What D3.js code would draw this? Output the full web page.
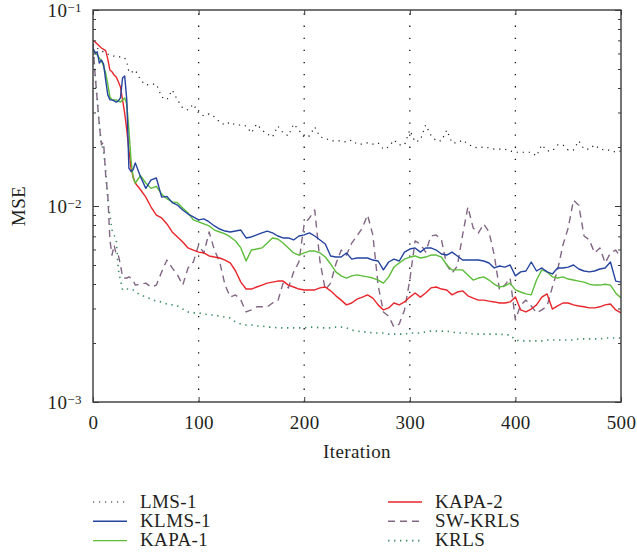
<!DOCTYPE html>
<html>
<head>
<meta charset="utf-8">
<script src="https://cdn.jsdelivr.net/npm/d3@7/dist/d3.min.js"></script>
<style>
  body { margin: 0; background: #fff; }
  svg { display: block; }
  text { font-family: "Liberation Serif", "Times New Roman", serif; fill: #231f20; letter-spacing: 0.4px; }
</style>
</head>
<body>
<div id="chart"></div>
<script>
// Iterations at which the curves were read (every 2 early on, then every 5).
const iterations = d3.range(0, 41, 2).concat(d3.range(45, 501, 5));

const lms1 = [
  6.71e-2, 6.55e-2, 6.40e-2, 6.25e-2, 6.18e-2, 6.11e-2, 6.03e-2, 5.96e-2, 5.89e-2, 5.82e-2, 5.82e-2,
  5.76e-2, 5.76e-2, 5.76e-2, 5.69e-2, 5.69e-2, 5.43e-2, 4.83e-2, 4.77e-2, 4.88e-2, 4.94e-2,
  4.40e-2, 4.14e-2, 4.19e-2, 4.19e-2, 3.60e-2, 3.48e-2, 3.91e-2, 3.48e-2, 3.16e-2, 3.09e-2, 3.31e-2,
  2.98e-2, 2.88e-2, 2.95e-2, 2.85e-2, 2.68e-2, 2.59e-2, 2.68e-2, 2.59e-2, 2.59e-2, 2.56e-2,
  2.36e-2, 2.62e-2, 2.44e-2, 2.33e-2, 2.25e-2, 2.56e-2, 2.36e-2, 2.28e-2, 2.62e-2, 2.44e-2,
  2.25e-2, 2.28e-2, 2.53e-2, 2.25e-2, 2.22e-2, 2.15e-2, 2.15e-2, 2.15e-2, 2.12e-2, 2.17e-2,
  2.07e-2, 2.07e-2, 2.10e-2, 2.07e-2, 2.10e-2, 1.95e-2, 2.00e-2, 2.17e-2, 2.05e-2, 2.05e-2,
  2.44e-2, 2.12e-2, 2.17e-2, 2.59e-2, 2.30e-2, 2.15e-2, 2.15e-2, 2.44e-2, 2.10e-2, 2.10e-2,
  2.17e-2, 2.07e-2, 2.00e-2, 1.98e-2, 2.00e-2, 1.98e-2, 1.95e-2, 1.95e-2, 1.95e-2, 1.91e-2,
  1.88e-2, 1.88e-2, 1.88e-2, 1.88e-2, 1.80e-2, 2.05e-2, 1.91e-2, 1.91e-2, 2.05e-2, 2.05e-2,
  1.93e-2, 1.93e-2, 2.15e-2, 1.95e-2, 1.95e-2, 2.05e-2, 1.95e-2, 1.93e-2, 1.93e-2, 1.88e-2, 1.91e-2
];

const klms1 = [
  6.40e-2, 6.03e-2, 6.11e-2, 5.36e-2, 5.56e-2, 5.30e-2, 4.39e-2, 3.69e-2, 3.48e-2, 3.48e-2, 3.44e-2,
  3.39e-2, 3.44e-2, 3.56e-2, 4.50e-2, 4.61e-2, 3.48e-2, 1.56e-2, 1.50e-2, 1.53e-2, 1.66e-2,
  1.41e-2, 1.23e-2, 1.36e-2, 1.39e-2, 1.11e-2, 1.12e-2, 1.04e-2, 1.01e-2, 9.54e-3, 9.10e-3, 8.79e-3,
  8.49e-3, 8.59e-3, 8.29e-3, 7.91e-3, 7.63e-3, 7.45e-3, 7.37e-3, 7.45e-3, 7.54e-3, 6.87e-3,
  6.95e-3, 7.12e-3, 7.29e-3, 7.45e-3, 7.29e-3, 7.03e-3, 6.87e-3, 6.87e-3, 6.71e-3, 7.03e-3,
  7.12e-3, 7.29e-3, 7.03e-3, 6.71e-3, 6.40e-3, 5.56e-3, 5.49e-3, 5.49e-3, 5.76e-3, 5.36e-3,
  5.43e-3, 5.43e-3, 5.43e-3, 5.30e-3, 5.24e-3, 4.72e-3, 5.18e-3, 5.36e-3, 5.24e-3, 5.82e-3,
  6.03e-3, 6.11e-3, 5.82e-3, 6.11e-3, 6.11e-3, 5.96e-3, 5.69e-3, 5.62e-3, 5.82e-3, 5.56e-3,
  5.30e-3, 5.30e-3, 5.30e-3, 5.30e-3, 5.24e-3, 5.12e-3, 4.83e-3, 4.94e-3, 4.88e-3, 5.00e-3,
  4.40e-3, 4.61e-3, 4.66e-3, 5.18e-3, 4.66e-3, 4.83e-3, 4.61e-3, 4.50e-3, 4.83e-3, 4.83e-3,
  4.88e-3, 5.00e-3, 4.77e-3, 4.66e-3, 4.61e-3, 4.66e-3, 4.77e-3, 4.83e-3, 5.18e-3, 4.14e-3, 4.09e-3
];

const kapa1 = [
  6.25e-2, 6.11e-2, 5.89e-2, 5.69e-2, 5.49e-2, 5.18e-2, 4.77e-2, 4.19e-2, 3.60e-2, 3.48e-2, 3.48e-2,
  3.48e-2, 3.44e-2, 3.39e-2, 3.48e-2, 3.56e-2, 3.31e-2, 2.44e-2, 1.72e-2, 1.39e-2, 1.31e-2,
  1.43e-2, 1.31e-2, 1.23e-2, 1.26e-2, 1.15e-2, 1.09e-2, 1.05e-2, 1.04e-2, 9.77e-3, 9.21e-3, 8.49e-3,
  8.29e-3, 8.10e-3, 7.91e-3, 7.54e-3, 7.37e-3, 7.20e-3, 6.95e-3, 6.63e-3, 6.11e-3, 5.24e-3,
  5.96e-3, 6.03e-3, 6.11e-3, 6.47e-3, 6.87e-3, 6.79e-3, 6.47e-3, 6.11e-3, 5.76e-3, 5.62e-3,
  5.76e-3, 5.89e-3, 5.89e-3, 5.76e-3, 5.49e-3, 5.06e-3, 4.61e-3, 4.40e-3, 4.29e-3, 4.40e-3,
  4.45e-3, 4.40e-3, 4.35e-3, 4.29e-3, 4.19e-3, 4.04e-3, 4.35e-3, 4.88e-3, 5.12e-3, 5.36e-3,
  5.49e-3, 5.56e-3, 5.43e-3, 5.49e-3, 5.62e-3, 5.62e-3, 5.49e-3, 5.00e-3, 4.72e-3, 4.72e-3,
  4.72e-3, 4.45e-3, 4.19e-3, 4.29e-3, 4.35e-3, 4.19e-3, 3.99e-3, 3.86e-3, 3.91e-3, 4.04e-3,
  3.73e-3, 3.64e-3, 3.56e-3, 3.52e-3, 4.19e-3, 4.72e-3, 4.61e-3, 4.35e-3, 4.29e-3, 4.35e-3,
  4.24e-3, 4.19e-3, 4.14e-3, 4.09e-3, 3.99e-3, 3.95e-3, 3.95e-3, 3.99e-3, 3.95e-3, 3.60e-3, 3.39e-3
];

const kapa2 = [
  6.98e-2, 6.87e-2, 6.71e-2, 6.55e-2, 6.40e-2, 6.30e-2, 6.20e-2, 5.62e-2, 4.94e-2, 4.84e-2, 4.66e-2,
  4.55e-2, 4.30e-2, 4.05e-2, 3.48e-2, 2.98e-2, 2.44e-2, 1.93e-2, 1.56e-2, 1.41e-2, 1.31e-2,
  1.21e-2, 1.11e-2, 9.88e-3, 8.99e-3, 8.69e-3, 8.10e-3, 7.37e-3, 6.95e-3, 6.55e-3, 6.11e-3, 5.96e-3,
  5.82e-3, 5.76e-3, 5.56e-3, 5.49e-3, 5.43e-3, 5.30e-3, 5.12e-3, 4.66e-3, 4.09e-3, 3.77e-3,
  3.77e-3, 3.86e-3, 3.95e-3, 4.04e-3, 4.09e-3, 4.14e-3, 4.14e-3, 3.95e-3, 3.86e-3, 3.77e-3,
  3.73e-3, 3.73e-3, 3.73e-3, 3.82e-3, 3.86e-3, 3.69e-3, 3.48e-3, 3.31e-3, 3.13e-3, 3.20e-3,
  3.35e-3, 3.43e-3, 3.52e-3, 3.39e-3, 3.13e-3, 2.95e-3, 3.02e-3, 3.20e-3, 3.13e-3, 3.24e-3,
  3.43e-3, 3.60e-3, 3.43e-3, 3.60e-3, 3.82e-3, 3.86e-3, 3.77e-3, 3.73e-3, 3.52e-3, 3.64e-3,
  3.69e-3, 3.48e-3, 3.39e-3, 3.31e-3, 3.31e-3, 3.27e-3, 3.24e-3, 3.20e-3, 3.20e-3, 3.24e-3,
  3.43e-3, 2.95e-3, 2.88e-3, 2.98e-3, 3.13e-3, 3.43e-3, 3.56e-3, 2.98e-3, 3.09e-3, 3.20e-3,
  3.20e-3, 3.13e-3, 3.09e-3, 3.06e-3, 3.02e-3, 3.02e-3, 3.06e-3, 3.13e-3, 3.16e-3, 2.95e-3, 2.85e-3
];

const swKrls = [
  6.63e-2, 4.66e-2, 3.48e-2, 2.59e-2, 2.05e-2, 2.12e-2, 1.44e-2, 1.14e-2, 6.71e-3, 5.62e-3, 6.32e-3,
  5.62e-3, 5.62e-3, 5.00e-3, 4.35e-3, 4.29e-3, 4.29e-3, 4.35e-3, 4.29e-3, 4.19e-3, 3.95e-3,
  3.99e-3, 4.04e-3, 3.86e-3, 3.95e-3, 4.61e-3, 5.30e-3, 4.83e-3, 4.45e-3, 3.95e-3, 4.83e-3, 5.18e-3,
  6.32e-3, 5.76e-3, 7.37e-3, 5.96e-3, 5.18e-3, 3.95e-3, 3.43e-3, 3.52e-3, 3.31e-3, 2.88e-3,
  2.95e-3, 3.06e-3, 3.06e-3, 3.06e-3, 3.20e-3, 3.27e-3, 4.04e-3, 3.82e-3, 4.61e-3, 5.18e-3,
  8.10e-3, 8.69e-3, 9.54e-3, 5.18e-3, 3.73e-3, 4.04e-3, 5.06e-3, 5.96e-3, 5.62e-3, 6.47e-3,
  7.03e-3, 7.73e-3, 8.99e-3, 7.12e-3, 3.95e-3, 2.88e-3, 2.74e-3, 2.41e-3, 2.50e-3, 2.95e-3,
  4.19e-3, 6.63e-3, 6.40e-3, 5.82e-3, 7.03e-3, 7.12e-3, 6.71e-3, 5.00e-3, 4.55e-3, 4.94e-3,
  7.12e-3, 9.88e-3, 7.73e-3, 7.29e-3, 8.10e-3, 7.37e-3, 5.62e-3, 3.73e-3, 3.95e-3, 4.29e-3,
  2.62e-3, 3.13e-3, 3.31e-3, 3.09e-3, 2.85e-3, 2.95e-3, 3.09e-3, 3.86e-3, 4.72e-3, 6.32e-3,
  7.73e-3, 1.07e-2, 1.01e-2, 7.03e-3, 6.71e-3, 5.76e-3, 6.11e-3, 5.12e-3, 5.76e-3, 5.96e-3, 5.43e-3
];

const krls = [
  6.63e-2, 4.66e-2, 3.48e-2, 2.59e-2, 2.05e-2, 1.93e-2, 1.53e-2, 1.07e-2, 8.99e-3, 7.54e-3, 7.12e-3,
  6.71e-3, 4.72e-3, 4.19e-3, 3.73e-3, 3.77e-3, 3.77e-3, 3.77e-3, 3.77e-3, 3.73e-3, 3.64e-3,
  3.52e-3, 3.43e-3, 3.35e-3, 3.27e-3, 3.24e-3, 3.16e-3, 3.13e-3, 3.09e-3, 2.98e-3, 2.88e-3, 2.85e-3,
  2.85e-3, 2.81e-3, 2.78e-3, 2.78e-3, 2.74e-3, 2.71e-3, 2.68e-3, 2.56e-3, 2.50e-3, 2.47e-3,
  2.47e-3, 2.44e-3, 2.44e-3, 2.41e-3, 2.41e-3, 2.39e-3, 2.39e-3, 2.39e-3, 2.39e-3, 2.39e-3,
  2.39e-3, 2.41e-3, 2.41e-3, 2.39e-3, 2.39e-3, 2.39e-3, 2.41e-3, 2.41e-3, 2.39e-3, 2.33e-3,
  2.30e-3, 2.28e-3, 2.28e-3, 2.25e-3, 2.25e-3, 2.25e-3, 2.22e-3, 2.22e-3, 2.22e-3, 2.22e-3,
  2.25e-3, 2.25e-3, 2.25e-3, 2.28e-3, 2.30e-3, 2.30e-3, 2.30e-3, 2.30e-3, 2.28e-3, 2.25e-3,
  2.25e-3, 2.25e-3, 2.22e-3, 2.22e-3, 2.22e-3, 2.22e-3, 2.22e-3, 2.22e-3, 2.20e-3, 2.20e-3,
  2.07e-3, 2.05e-3, 2.05e-3, 2.05e-3, 2.05e-3, 2.05e-3, 2.07e-3, 2.07e-3, 2.07e-3, 2.07e-3,
  2.07e-3, 2.07e-3, 2.10e-3, 2.10e-3, 2.10e-3, 2.10e-3, 2.10e-3, 2.12e-3, 2.12e-3, 2.12e-3, 2.12e-3
];

const xTicks = [0, 100, 200, 300, 400, 500];
const xGrid = [100, 200, 300, 400];
const yMajor = [1e-3, 1e-2, 1e-1];
const yMinor = [2e-3, 3e-3, 4e-3, 5e-3, 6e-3, 7e-3, 8e-3, 9e-3, 2e-2, 3e-2, 4e-2, 5e-2, 6e-2, 7e-2, 8e-2, 9e-2];

// Series styling, drawn in this order (last on top).
const series = [
  { name: 'LMS-1',   values: lms1,   color: '#1a1a1a', width: 1.2, dash: '1.2,4.8' },
  { name: 'KRLS',    values: krls,   color: '#3d8f63', width: 1.6, dash: '1.4,4.6' },
  { name: 'SW-KRLS', values: swKrls, color: '#826684', width: 1.4, dash: '7,5' },
  { name: 'KAPA-2',  values: kapa2,  color: '#e8262b', width: 1.4, dash: null },
  { name: 'KAPA-1',  values: kapa1,  color: '#5cbd38', width: 1.4, dash: null },
  { name: 'KLMS-1',  values: klms1,  color: '#2544a0', width: 1.4, dash: null }
];

// legend order: left column then right column
const legendLeft = ['LMS-1', 'KLMS-1', 'KAPA-1'];
const legendRight = ['KAPA-2', 'SW-KRLS', 'KRLS'];

const width = 637, height = 556;
const plot = { left: 93, right: 621, top: 10, bottom: 402 };

const svg = d3.select('#chart')
  .append('svg')
  .attr('width', width)
  .attr('height', height);

const x = d3.scaleLinear().domain([0, 500]).range([plot.left, plot.right]);
const y = d3.scaleLog().domain([1e-3, 1e-1]).range([plot.bottom, plot.top]);

svg.append('defs').append('clipPath').attr('id', 'plot-clip')
  .append('rect')
  .attr('x', plot.left).attr('y', plot.top)
  .attr('width', plot.right - plot.left).attr('height', plot.bottom - plot.top);

// Vertical dotted grid.
svg.append('g')
  .classed('grid', true)
  .selectAll('line')
  .data(xGrid)
  .join('line')
  .attr('x1', (d) => x(d)).attr('x2', (d) => x(d))
  .attr('y1', plot.bottom).attr('y2', plot.top)
  .attr('stroke', '#111')
  .attr('stroke-width', 1.3)
  .attr('stroke-dasharray', '1.3,10.8');

// Curves.
const line = d3.line()
  .x((d, i) => x(iterations[i]))
  .y((d) => y(d));

svg.append('g')
  .attr('clip-path', 'url(#plot-clip)')
  .selectAll('path')
  .data(series)
  .join('path')
  .attr('d', (s) => line(s.values))
  .attr('fill', 'none')
  .attr('stroke', (s) => s.color)
  .attr('stroke-width', (s) => s.width)
  .attr('stroke-dasharray', (s) => s.dash)
  .attr('stroke-linejoin', 'round');

// Axes: ticks point inward, labels on bottom and left only.
const axisColor = '#3a3a3a';

const bottomAxis = svg.append('g')
  .attr('transform', `translate(0,${plot.bottom})`)
  .call(d3.axisBottom(x).tickValues(xTicks).tickSizeInner(-5).tickSizeOuter(0).tickPadding(14));
const topAxis = svg.append('g')
  .attr('transform', `translate(0,${plot.top})`)
  .call(d3.axisTop(x).tickValues(xTicks).tickSizeInner(-5).tickSizeOuter(0).tickFormat(''));

const leftAxis = svg.append('g')
  .attr('transform', `translate(${plot.left},0)`)
  .call(d3.axisLeft(y).tickValues(yMajor).tickSizeInner(-6).tickSizeOuter(0).tickPadding(11));
const leftMinor = svg.append('g')
  .attr('transform', `translate(${plot.left},0)`)
  .call(d3.axisLeft(y).tickValues(yMinor).tickSizeInner(-3).tickSizeOuter(0).tickFormat(''));
const rightAxis = svg.append('g')
  .attr('transform', `translate(${plot.right},0)`)
  .call(d3.axisRight(y).tickValues(yMajor).tickSizeInner(-6).tickSizeOuter(0).tickFormat(''));
const rightMinor = svg.append('g')
  .attr('transform', `translate(${plot.right},0)`)
  .call(d3.axisRight(y).tickValues(yMinor).tickSizeInner(-3).tickSizeOuter(0).tickFormat(''));

[bottomAxis, topAxis, leftAxis, leftMinor, rightAxis, rightMinor].forEach((g) => {
  g.select('.domain').remove();
  g.selectAll('.tick line').attr('stroke', axisColor).attr('stroke-width', 1);
  g.selectAll('.tick text')
    .attr('fill', '#231f20')
    .attr('font-family', '"Liberation Serif", "Times New Roman", serif')
    .attr('font-size', 19);
});

// Log labels as 10 with a superscript exponent.
leftAxis.selectAll('.tick text')
  .attr('dy', '0.36em')
  .each(function (d) {
    const exp = Math.round(Math.log10(d));
    const t = d3.select(this).text('10');
    t.append('tspan')
      .attr('dy', -5.5)
      .attr('font-size', 13)
      .text('\u2212' + Math.abs(exp));
  });

// Plot frame.
svg.append('rect')
  .attr('x', plot.left).attr('y', plot.top)
  .attr('width', plot.right - plot.left).attr('height', plot.bottom - plot.top)
  .attr('fill', 'none')
  .attr('stroke', axisColor)
  .attr('stroke-width', 1.4);

// Axis titles.
svg.append('text')
  .attr('x', (plot.left + plot.right) / 2)
  .attr('y', 458)
  .attr('text-anchor', 'middle')
  .attr('font-size', 19)
  .text('Iteration');

svg.append('text')
  .attr('transform', `translate(25,${(plot.top + plot.bottom) / 2}) rotate(-90)`)
  .attr('text-anchor', 'middle')
  .attr('font-size', 19)
  .text('MSE');

// Legend (two columns, no box).
const styleOf = (name) => series.find((s) => s.name === name);
function drawLegendColumn(names, x0) {
  const g = svg.append('g').classed('legend', true);
  names.forEach((name, i) => {
    const s = styleOf(name);
    const cy = 502 + i * 19.3;
    g.append('line')
      .attr('x1', x0).attr('x2', x0 + 34)
      .attr('y1', cy).attr('y2', cy)
      .attr('stroke', s.color)
      .attr('stroke-width', s.width)
      .attr('stroke-dasharray', s.dash);
    g.append('text')
      .attr('x', x0 + 47)
      .attr('y', cy + 5.5)
      .attr('font-size', 19)
      .text(name);
  });
}
drawLegendColumn(legendLeft, 93);
drawLegendColumn(legendRight, 388);
</script>
</body>
</html>
